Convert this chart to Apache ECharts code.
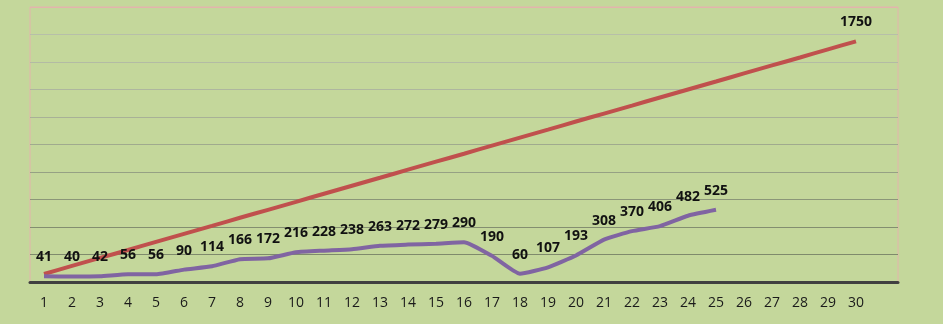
<!DOCTYPE html>
<html>
<head>
<meta charset="utf-8">
<script src="https://cdn.jsdelivr.net/npm/echarts@6/dist/echarts.min.js"></script>
<style>
  html, body { margin: 0; padding: 0; background: #c4d79b; }
  #chart { width: 943px; height: 324px; }
</style>
</head>
<body>
<div id="chart"></div>
<script>
// Day numbers along the bottom (one spare slot at the end, unlabelled)
const days = ['1','2','3','4','5','6','7','8','9','10','11','12','13','14','15',
              '16','17','18','19','20','21','22','23','24','25','26','27','28','29','30',''];

// Planned cumulative target
const targetValues = [58, 117, 175, 233, 292, 350, 408, 467, 525, 583, 642, 700, 758, 817, 875,
                      933, 992, 1050, 1108, 1167, 1225, 1283, 1342, 1400, 1458, 1517, 1575, 1633, 1692, 1750];

// Actual daily figures
const actualValues = [41, 40, 42, 56, 56, 90, 114, 166, 172, 216, 228, 238, 263, 272, 279,
                      290, 190, 60, 107, 193, 308, 370, 406, 482, 525];

const yMax = 2000;
const yStep = 200;

// Horizontal rules: darker near the base, lighter up top, pink frame at the top edge
const ruleColors = ['#7b8668', '#7f8a6c', '#838e70', '#8b9678', '#96a184', '#a0aa8e',
                    '#a8b197', '#aeb69f', '#b3bba4', '#b7bfa9', '#e3b4ac'];

const labelStyle = {
  show: true,
  position: 'top',
  distance: 11,
  color: '#111',
  fontSize: 14,
  fontWeight: 'bold',
  fontFamily: 'Open Sans'
};

const chart = echarts.init(document.getElementById('chart'));
chart.setOption({
  backgroundColor: '#c4d79b',
  animation: false,
  grid: {
    left: 30, right: 45, top: 7, bottom: 42,
    show: true,
    borderColor: '#e3b4ac',
    borderWidth: 1,
    backgroundColor: 'transparent'
  },
  xAxis: {
    type: 'category',
    data: days,
    boundaryGap: true,
    axisLine: { show: true, lineStyle: { color: '#404040', width: 3 } },
    axisTick: { show: false },
    axisLabel: {
      interval: 0, margin: 14,
      color: '#1a1a1a', fontSize: 14, fontFamily: 'Open Sans'
    },
    splitLine: { show: false }
  },
  yAxis: {
    type: 'value',
    min: 0, max: yMax, interval: yStep,
    axisLine: { show: false },
    axisTick: { show: false },
    axisLabel: { show: false },
    splitLine: { show: true, lineStyle: { color: ruleColors, width: 1 } }
  },
  series: [
    {
      name: 'Target',
      type: 'line',
      data: targetValues,
      symbol: 'circle',
      symbolSize: 2,
      showSymbol: true,
      showAllSymbol: true,
      itemStyle: { color: 'rgba(0,0,0,0)', borderWidth: 0 },
      smooth: 0.15,
      lineStyle: { color: '#c0504d', width: 4 },
      label: Object.assign({}, labelStyle, {
        formatter: p => (p.dataIndex === targetValues.length - 1 ? String(p.value) : '')
      }),
      z: 2
    },
    {
      name: 'Actual',
      type: 'line',
      data: actualValues,
      symbol: 'circle',
      symbolSize: 2,
      showSymbol: true,
      showAllSymbol: true,
      itemStyle: { color: 'rgba(0,0,0,0)', borderWidth: 0 },
      smooth: 0.15,
      lineStyle: { color: '#8064a2', width: 4 },
      label: labelStyle,
      z: 3
    }
  ]
});
</script>
</body>
</html>
